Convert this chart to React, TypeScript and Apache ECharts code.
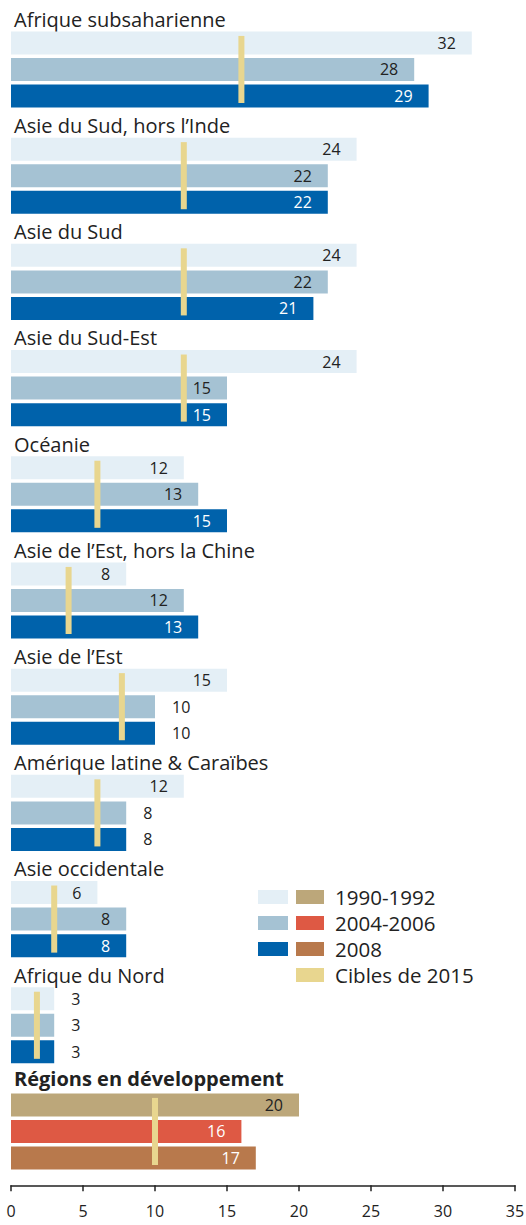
import React, { useEffect, useRef } from "react";
import * as echarts from "echarts";

const regions = [
  "Afrique subsaharienne",
  "Asie du Sud, hors l’Inde",
  "Asie du Sud",
  "Asie du Sud-Est",
  "Océanie",
  "Asie de l’Est, hors la Chine",
  "Asie de l’Est",
  "Amérique latine & Caraïbes",
  "Asie occidentale",
  "Afrique du Nord",
  "Régions en développement",
];
const values1990 = [32, 24, 24, 24, 12, 8, 15, 12, 6, 3, 20];
const values2005 = [28, 22, 22, 15, 13, 12, 10, 8, 8, 3, 16];
const values2008 = [29, 22, 21, 15, 15, 13, 10, 8, 8, 3, 17];
const targets2015 = [16, 12, 12, 12, 6, 4, 7.7, 6, 3, 1.8, 10];
const xTicks = [0, 5, 10, 15, 20, 25, 30, 35];
const periods = ["1990-1992", "2004-2006", "2008"];
const targetLabel = "Cibles de 2015";

// style helpers
const outsideLabels = ["6-1", "6-2", "7-1", "7-2", "9-0", "9-1", "9-2"];
const blueColors = ["#e4eff6", "#a5c2d3", "#0062ab"];
const totalColors = ["#bca77a", "#de5944", "#b8794c"];
const blueText = ["#222", "#222", "#fff"];
const totalText = ["#222", "#fff", "#fff"];
const targetColor = "#e8d68f";
const FONT = "Open Sans";

export default function App() {
  const ref = useRef<HTMLDivElement>(null);
  useEffect(() => {
    document.body.style.margin = "0";
    const chart = echarts.init(ref.current!, undefined, { renderer: "svg" });
    const n = regions.length;
    const slotLabels: any[] = [];
    const barData: any[] = [];
    const series3 = [values1990, values2005, values2008];
    for (let i = 0; i < n; i++) {
      const isTotal = i === n - 1;
      slotLabels.push(
        isTotal
          ? { value: regions[i], textStyle: { fontWeight: "bold" } }
          : regions[i]
      );
      barData.push({ value: "-" });
      for (let k = 0; k < 3; k++) {
        slotLabels.push("");
        const outside = outsideLabels.includes(`${i}-${k}`);
        const fill = isTotal ? totalColors[k] : blueColors[k];
        const tc = outside ? "#222" : isTotal ? totalText[k] : blueText[k];
        barData.push({
          value: series3[k][i],
          itemStyle: { color: fill },
          label: {
            show: true,
            position: outside ? "right" : "insideRight",
            distance: outside ? 17 : 16,
            color: tc,
            fontSize: 16,
            fontFamily: FONT,
          },
        });
      }
    }
    const targetData = targets2015.map((t, i) => [t, 4 * i + 1]);

    const legendItems: any[] = [];
    const lx1 = 258, lx2 = 296, ly = 890, lp = 26;
    const lfont = `20.5px '${FONT}'`;
    for (let k = 0; k < 3; k++) {
      legendItems.push({ type: "rect", shape: { x: lx1, y: ly + k * lp, width: 30, height: 14 }, style: { fill: blueColors[k] } });
      legendItems.push({ type: "rect", shape: { x: lx2, y: ly + k * lp, width: 28, height: 14 }, style: { fill: totalColors[k] } });
      legendItems.push({ type: "text", x: 335, y: ly + 7 + k * lp, style: { text: periods[k], font: lfont, fill: "#222", verticalAlign: "middle", align: "left" } });
    }
    legendItems.push({ type: "rect", shape: { x: lx2, y: ly + 3 * lp, width: 28, height: 14 }, style: { fill: targetColor } });
    legendItems.push({ type: "text", x: 335, y: ly + 7 + 3 * lp, style: { text: targetLabel, font: lfont, fill: "#222", verticalAlign: "middle", align: "left" } });

    chart.setOption({
      animation: false,
      textStyle: { fontFamily: FONT },
      grid: { left: 11, right: 11, top: 3.1, height: 1168.2, outerBoundsMode: "none", containLabel: false },
      xAxis: {
        type: "value",
        min: 0,
        max: 35,
        interval: 5,
        offset: 14,
        axisLine: { show: true, lineStyle: { color: "#222", width: 1.5 } },
        axisTick: { show: true, length: 6, lineStyle: { color: "#222", width: 1.5 } },
        axisLabel: { color: "#222", fontSize: 16, fontFamily: FONT, margin: 18, formatter: (v: number) => (xTicks.includes(v) ? String(v) : "") },
        splitLine: { show: false },
      },
      yAxis: {
        type: "category",
        inverse: true,
        data: slotLabels,
        axisLine: { show: false },
        axisTick: { show: false },
        axisLabel: {
          inside: true,
          interval: 0,
          margin: 3,
          align: "left",
          verticalAlign: "top",
          lineHeight: 6,
          color: "#222",
          fontSize: 20,
          fontFamily: FONT,
        },
      },
      series: [
        {
          type: "bar",
          data: barData,
          barWidth: 23,
          z: 2,
        },
        {
          type: "custom",
          data: targetData,
          z: 3,
          renderItem: (params: any, api: any) => {
            const t = api.value(0);
            const slot = api.value(1);
            const a = api.coord([t, slot]);
            const b = api.coord([t, slot + 2]);
            const barH = 23;
            const y0 = a[1] - barH / 2 + 4.5;
            const y1 = b[1] + barH / 2 - 4.5;
            return { type: "rect", shape: { x: a[0] - 3, y: y0, width: 6, height: y1 - y0 }, style: { fill: targetColor } };
          },
        },
      ],
      graphic: legendItems,
    });
    return () => chart.dispose();
  }, []);
  return <div ref={ref} style={{ width: 526, height: 1225 }} />;
}
